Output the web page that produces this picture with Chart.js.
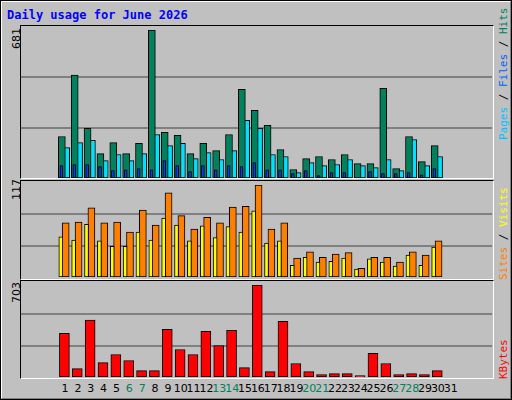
<!DOCTYPE html>
<html><head><meta charset="utf-8">
<script src="https://cdn.jsdelivr.net/npm/chart.js@4"></script>
<style>
body{margin:0;background:#fff}
#wrap{position:relative;width:512px;height:400px;background:#c0c0c0;box-sizing:border-box;border:1px solid #000;overflow:hidden}
#inner{position:absolute;left:0;top:0;width:508px;height:396px;border-top:1px solid #fff;border-left:1px solid #fff;border-right:1px solid #808080;border-bottom:1px solid #808080}
.box{position:absolute;border-top:1px solid #000;border-left:1px solid #000;border-right:1px solid #fff;border-bottom:1px solid #fff;box-sizing:border-box}
canvas{position:absolute}
.t{position:absolute;font-family:"DejaVu Sans Mono",monospace;font-size:12px;white-space:nowrap}
.rot{position:absolute;transform:rotate(-90deg);transform-origin:0 0;white-space:nowrap;font-family:"DejaVu Sans Mono",monospace;font-size:11px}
.d{position:absolute;top:381px;font-family:"DejaVu Sans",sans-serif;font-size:11px;transform:translateX(-50%)}
</style></head><body>
<div id="wrap"><div id="inner"></div>
<div class="t" style="left:6px;top:7px;color:#0000ff;font-weight:bold">Daily usage for June 2026</div>
<div class="box" style="left:19px;top:24px;width:474px;height:154px"></div>
<div class="box" style="left:19px;top:179px;width:474px;height:100px"></div>
<div class="box" style="left:19px;top:279px;width:474px;height:99px"></div>
<div class="rot" style="left:9px;top:48px;font-family:'DejaVu Sans';font-size:11px">681</div>
<div class="rot" style="left:9px;top:199px;font-family:'DejaVu Sans';font-size:11px">117</div>
<div class="rot" style="left:9px;top:302px;font-family:'DejaVu Sans';font-size:11px">703</div>
<div class="rot" style="left:496px;top:139px"><span style="color:#00c0ff">Pages</span> / <span style="color:#0060ff">Files</span> / <span style="color:#00805c">Hits</span></div>
<div class="rot" style="left:496px;top:279px"><span style="color:#ff8000">Sites</span> / <span style="color:#ffff00">Visits</span></div>
<div class="rot" style="left:496px;top:378px;color:#ff0000">KBytes</div>
<canvas id="c1" style="left:20px;top:29px;width:471px;height:148px"></canvas>
<canvas id="c2" style="left:20px;top:184px;width:471px;height:92px"></canvas>
<canvas id="c3" style="left:20px;top:284px;width:471px;height:92px"></canvas>
</div>
<script>
const days=[1,2,3,4,5,6,7,8,9,10,11,12,13,14,15,16,17,18,19,20,21,22,23,24,25,26,27,28,29,30,31];
const weekend=[6,7,13,14,20,21,27,28];
const hits=[191,473,228,112,163,112,159,681,210,196,112,159,126,200,408,311,242,131,39,89,99,85,108,66,66,413,43,191,75,149];
const files=[140,163,173,80,108,80,112,200,149,159,89,117,85,126,265,228,108,99,25,71,57,62,85,57,48,85,34,177,57,99];
const pages=[57,62,62,52,34,38,43,38,80,57,29,57,38,57,52,71,38,38,20,34,11,25,25,3,29,20,20,25,15,43];
const visits=[51,47,67,46,39,39,57,47,75,66,46,65,50,64,57,84,43,46,15,25,19,20,24,10,23,19,14,28,15,38];
const sites=[69,70,88,69,70,57,85,66,107,78,61,76,69,89,90,117,61,69,24,32,25,29,31,11,25,25,19,32,28,46];
const kbytes=[334,64,434,110,172,126,49,49,364,210,172,349,241,357,72,703,41,426,103,41,18,26,26,10,180,103,18,26,18,49];
const XMIN=0.27,XMAX=31.67;
function ds(vals,color,off,w){return {data:vals.map((v,i)=>({x:days[i]+off,y:v})),backgroundColor:color,borderColor:'#000',borderWidth:1,barThickness:w,grouped:false,borderSkipped:false};}
const gridPlugin={id:'g',beforeDatasetsDraw(ch){const y=ch.scales.y,a=ch.chartArea,c=ch.ctx;c.save();c.strokeStyle='#808080';c.lineWidth=2;
  [0.335,0.68].forEach(f=>{const p=Math.round(y.getPixelForValue(y.max*f));c.beginPath();c.moveTo(a.left,p);c.lineTo(a.right,p);c.stroke();});c.restore();}};
function mk(id,sets,max){
  const c=document.getElementById(id);c.width=parseInt(c.style.width);c.height=parseInt(c.style.height);
  return new Chart(c,{type:'bar',data:{datasets:sets},plugins:[gridPlugin],
  options:{responsive:false,animation:false,devicePixelRatio:1,layout:{padding:0},
   plugins:{legend:{display:false},tooltip:{enabled:false}},
   scales:{x:{type:'linear',min:XMIN,max:XMAX,display:false},
           y:{min:0,max:max,display:false}}}});
}
mk('c1',[ds(pages,'#0040ff',-0.2,3),ds(hits,'#00805c',-0.17,7),ds(files,'#00e0ff',0.13,8)],681);
mk('c2',[ds(visits,'#ffff00',-0.25,4),ds(sites,'#ff8000',0.13,7)],117);
const ch3=mk('c3',[ds(kbytes,'#ff0000',0.03,10)],703);
const wrap=document.getElementById('wrap');
days.forEach(d=>{const e=document.createElement('div');e.className='d';e.textContent=d;
  e.style.left=(20+ch3.scales.x.getPixelForValue(d)+1)+'px';e.style.color=weekend.includes(d)?'#00805c':'#000';wrap.appendChild(e);});
</script></body></html>
